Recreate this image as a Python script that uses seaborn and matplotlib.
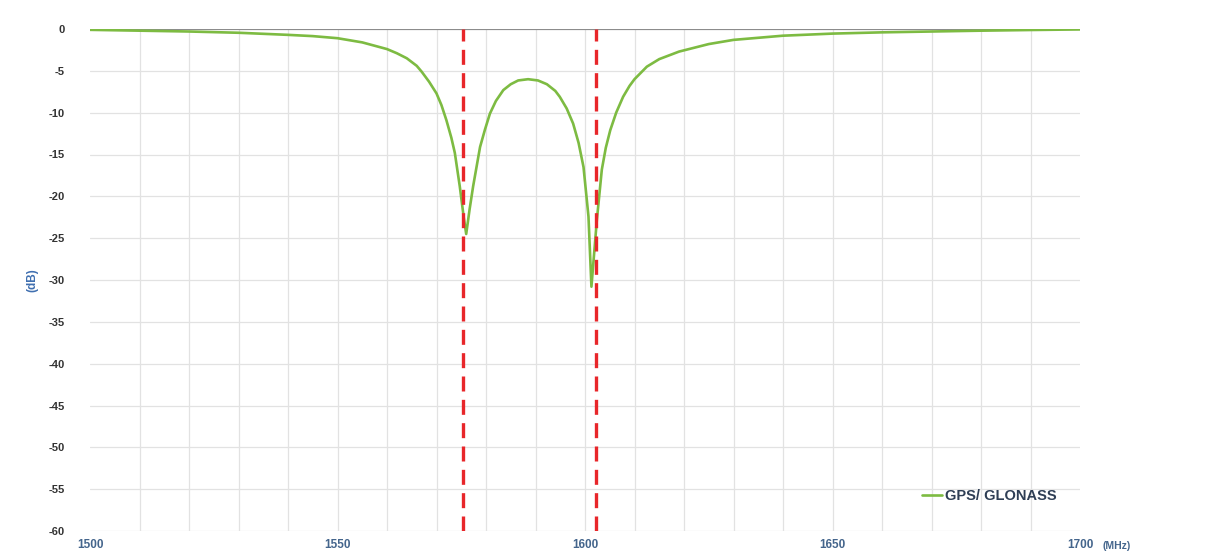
import matplotlib
matplotlib.use("Agg")
import matplotlib.pyplot as plt
import seaborn as sns
import pandas as pd
import numpy as np

# Data
freq_mhz = [1500, 1510, 1520, 1530, 1540, 1545, 1550, 1555, 1560, 1562, 1564, 1566,
            1567, 1568.5, 1570, 1571, 1572, 1573, 1573.7, 1574.7, 1575.5, 1576,
            1576.7, 1577.4, 1578.8, 1579.8, 1580.8, 1582, 1583.5, 1585, 1586.5,
            1588.5, 1590.5, 1592.3, 1594, 1594.9, 1596.3, 1597.6, 1598.7, 1599.7,
            1600.7, 1601.3, 1602.4, 1603.4, 1604.2, 1605.1, 1606.3, 1607.7, 1609,
            1610, 1612.5, 1615, 1619, 1625, 1630, 1640, 1650, 1660, 1670, 1680,
            1690, 1700]
gain_db = [-0.1, -0.2, -0.3, -0.45, -0.7, -0.85, -1.1, -1.6, -2.4, -2.9, -3.5, -4.4,
           -5.1, -6.3, -7.7, -9.1, -10.9, -13.0, -14.8, -18.8, -22.5, -24.5,
           -21.5, -18.8, -14.1, -12.0, -10.1, -8.6, -7.3, -6.6, -6.15,
           -6.0, -6.15, -6.6, -7.4, -8.1, -9.5, -11.3, -13.6, -16.5,
           -22.4, -30.8, -22.8, -16.8, -14.2, -12.1, -10.0, -8.1, -6.8,
           -6.0, -4.5, -3.6, -2.7, -1.8, -1.3, -0.8, -0.55, -0.4, -0.3, -0.2,
           -0.12, -0.05]
series_name = "GPS/ GLONASS"
marker_freqs = [1575.42, 1602.2]
x_ticks = [1500, 1550, 1600, 1650, 1700]
y_ticks = [0, -5, -10, -15, -20, -25, -30, -35, -40, -45, -50, -55, -60]

df = pd.DataFrame({"freq": freq_mhz, "gain": gain_db, "series": series_name})

sns.set_style("white")
plt.rcParams["font.family"] = ["Liberation Sans", "DejaVu Sans"]

fig = plt.figure(figsize=(12.16, 5.6), dpi=100)
ax = fig.add_axes([90 / 1216, 1 - 531 / 560, (1080 - 90) / 1216, (531 - 29) / 560])

# grid
for xv in np.arange(1510, 1700, 10):
    ax.axvline(xv, color="#E2E2E2", lw=0.9, zorder=0)
for yv in y_ticks[1:]:
    ax.axhline(yv, color="#E2E2E2", lw=0.9, zorder=0)
ax.axhline(0, color="#8C8C8C", lw=1.6, zorder=1)

sns.lineplot(data=df, x="freq", y="gain", hue="series", palette=["#7DBB42"],
             lw=1.9, ax=ax, zorder=3, sort=False)

for mf in marker_freqs:
    ax.axvline(mf, color="#E8262A", lw=2.4, ls=(0, (4.5, 2.5)), zorder=4)

ax.set_xlim(1500, 1700)
ax.set_ylim(-60, 0)
ax.set_xticks(x_ticks)
ax.set_yticks(y_ticks)
ax.set_xticklabels([str(v) for v in x_ticks], color="#44658C", fontsize=8.5,
                   fontweight="bold")
ax.set_yticklabels([str(v) for v in y_ticks], color="#333333", fontsize=8,
                   fontweight="bold")
ax.tick_params(axis="y", length=0, pad=18)
ax.tick_params(axis="x", length=0, pad=6)
for s in ax.spines.values():
    s.set_visible(False)

ax.set_xlabel("")
ax.set_ylabel("(dB)", color="#3F6FB0", fontsize=8.5, fontweight="bold", labelpad=28)
ax.yaxis.set_label_coords(-0.052, 0.5)

fig.text(1117 / 1216, 1 - 546 / 560, "(MHz)", color="#44658C", fontsize=7.5,
         fontweight="bold", ha="center", va="center")

leg = ax.legend(loc="lower right", frameon=False, fontsize=10.5, handlelength=1.4,
                handletextpad=0.2, bbox_to_anchor=(0.99, 0.03))
for t in leg.get_texts():
    t.set_color("#2E3E55")
    t.set_fontweight("bold")

fig.savefig("out.png", dpi=100, facecolor="white")
